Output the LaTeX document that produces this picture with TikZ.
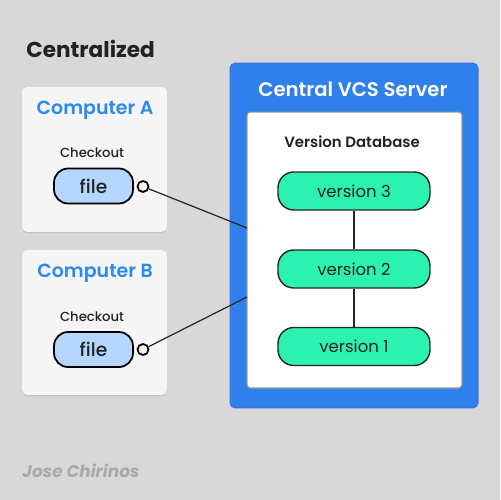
\documentclass[tikz,border=0pt]{standalone}
\usepackage{fontspec}
\setmainfont{Poppins}
\newfontfamily\psemi{Poppins SemiBold}
\newfontfamily\pmed{Poppins Medium}
\usetikzlibrary{positioning}
\definecolor{bgc}{HTML}{D8D8D8}
\definecolor{boxc}{HTML}{F5F5F5}
\definecolor{shadowc}{HTML}{C4C4C4}
\definecolor{bluetext}{HTML}{2B8AEE}
\definecolor{serverc}{HTML}{2F80EA}
\definecolor{serverb}{HTML}{3D6EE0}
\definecolor{filec}{HTML}{B4D6FF}
\definecolor{verc}{HTML}{2CF2B1}
\definecolor{markc}{HTML}{A9A9A9}
\definecolor{textc}{HTML}{222222}
\begin{document}
\begin{tikzpicture}[x=0.02cm,y=-0.02cm,
  lbl/.style={inner sep=0pt,anchor=base},
  compbox/.style={draw=none,fill=boxc,rounded corners=3pt,minimum width=2.9cm,minimum height=2.9cm,inner sep=0pt},
  shadowbox/.style={fill=shadowc,rounded corners=3pt,minimum width=2.9cm,minimum height=2.9cm,inner sep=0pt},
  comptitle/.style={lbl,text=bluetext,font=\psemi\fontsize{10.8pt}{12pt}\selectfont},
  chk/.style={lbl,text=textc,font=\pmed\fontsize{7.5pt}{9pt}\selectfont},
  filenode/.style={draw=black,line width=1pt,fill=filec,rounded corners=8pt,minimum width=1.58cm,minimum height=0.7cm,inner sep=0pt,font=\pmed\fontsize{10.6pt}{12pt}\selectfont,text=textc},
  port/.style={circle,draw=black,line width=1pt,fill=boxc,minimum size=0.22cm,inner sep=0pt},
  vernode/.style={draw=black!85,line width=0.8pt,fill=verc,rounded corners=9pt,minimum width=3.04cm,minimum height=0.76cm,inner sep=0pt,font=\fontsize{9.4pt}{11pt}\selectfont,text=textc},
  conn/.style={draw=black!85,line width=0.7pt}
]
\useasboundingbox (0,0) rectangle (500,500);
\fill[bgc] (0,0) rectangle (500,500);

\node[lbl,anchor=base west,text=textc,font=\bfseries\fontsize{12.3pt}{14pt}\selectfont] (title) at (26,58) {Centralized};

% Computer A
\node[shadowbox] (sa) at (94.5,161) {};
\node[compbox] (ca) at (94.5,159.5) {};
\node[comptitle] (cat) at (95,114) {Computer A};
\node[chk] (cak) at (92,157) {Checkout};
\node[filenode] (fa) at (93.5,186) {file};
\node[port] (pa) at (143,186.5) {};

% Computer B
\node[shadowbox] (sb) at (94.5,324) {};
\node[compbox] (cb) at (94.5,322.5) {};
\node[comptitle] (cbt) at (95,277) {Computer B};
\node[chk] (cbk) at (92,321) {Checkout};
\node[filenode] (fb) at (93.5,349.5) {file};
\node[port] (pb) at (143,349.5) {};

% Server
\node[draw=serverb,line width=0.6pt,fill=serverc,rounded corners=3pt,minimum width=4.96cm,minimum height=6.9cm,inner sep=0pt] (srv) at (354,235.5) {};
\node[lbl,text=white,font=\psemi\fontsize{11.2pt}{13pt}\selectfont] (srvt) at (353,96) {Central VCS Server};
\node[draw=black!40,line width=0.6pt,fill=white,rounded corners=2pt,minimum width=4.3cm,minimum height=5.52cm,inner sep=0pt] (db) at (354.5,250) {};
\node[lbl,text=textc,font=\psemi\fontsize{8.5pt}{10pt}\selectfont] (dbt) at (352,147) {Version Database};

\node[vernode] (v3) at (354,191) {version 3};
\node[vernode] (v2) at (354,269) {version 2};
\node[vernode] (v1) at (354,346.5) {version 1};
\draw[conn] (v3) -- (v2);
\draw[conn] (v2) -- (v1);

\coordinate (ea) at (247,228);
\coordinate (eb) at (247,297);
\draw[conn] (pa) -- (ea);
\draw[conn] (pb) -- (eb);

\node[lbl,anchor=base west,text=markc,font=\bfseries\itshape\fontsize{9.6pt}{11pt}\selectfont] (mark) at (22,477) {Jose Chirinos};
\end{tikzpicture}
\end{document}
